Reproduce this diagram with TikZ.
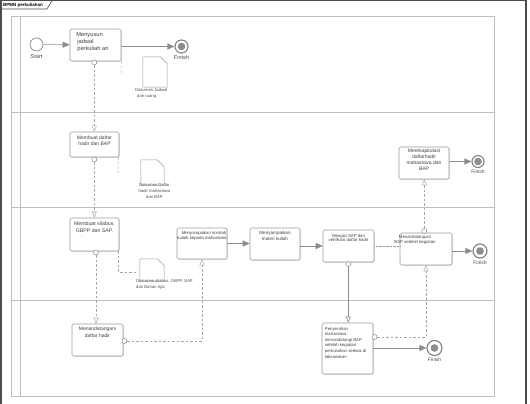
\documentclass[tikz,border=0pt]{standalone}
\usepackage{fontspec}
\setmainfont{Liberation Sans}
\usetikzlibrary{arrows.meta,positioning,shadows}

\begin{document}
\begin{tikzpicture}[x=1pt,y=-1pt,
    lane/.style={draw=black!25,line width=1pt},
    task/.style={draw=black!40,line width=0.6pt,rounded corners=1.5pt,fill=white,
      inner sep=0pt,minimum width=50pt,minimum height=32pt,
      drop shadow={shadow xshift=0.8pt,shadow yshift=-0.8pt,opacity=0.25}},
    tasktext/.style={font=\fontsize{4.3}{5.2}\selectfont,align=center,inner sep=0pt,text=black!75},
    event/.style={circle,draw=black!45,line width=0.7pt,fill=white,inner sep=0pt,minimum size=13pt},
    endevent/.style={event,line width=1.1pt,draw=black!50,
      path picture={\fill[black!45] (path picture bounding box.center) circle (3.8pt);}},
    evlabel/.style={font=\fontsize{5}{6}\selectfont,text=black!70,inner sep=0pt},
    port/.style={circle,draw=black!45,fill=white,inner sep=0pt,minimum size=5pt,line width=0.5pt},
    flow/.style={draw=black!45,line width=0.6pt,-{Triangle[length=7pt,width=6pt,fill=black!45]}},
    msg/.style={draw=black!35,line width=0.5pt,dash pattern=on 2.5pt off 2pt,
      -{Triangle[open,length=6pt,width=5pt]}},
    msgsolid/.style={draw=black!45,line width=0.6pt,-{Triangle[open,length=6pt,width=5pt]}},
    assoc/.style={draw=black!35,line width=0.5pt,dash pattern=on 2.5pt off 2pt},
    docshape/.style={inner sep=0pt,minimum width=24pt,minimum height=26pt},
    doc/.style={draw=black!40,line width=0.5pt,fill=white},
    doctext/.style={font=\fontsize{4.2}{5.8}\selectfont,text=black!70,inner sep=0pt},
    tinydots/.style={font=\fontsize{2.5}{3}\selectfont,text=black!50,inner sep=0pt}
  ]
  \useasboundingbox (0,0) rectangle (530,404);

  % frame and title tab
  \draw[black!70,line width=1.2pt] (1,404) -- (1,0.6) -- (526,0.6) -- (526,404);
  \draw[black!70,line width=0.6pt] (1,9) -- (47,9) -- (52,0.6);
  \node[font=\fontsize{4.5}{5}\selectfont\bfseries,inner sep=0pt,anchor=west] (title) at (3,5) {BPMN perkuliahan};

  % pool and lanes
  \draw[lane] (11,17) rectangle (494,396);
  \draw[lane] (20,17) -- (20,396);
  \foreach \y in {112,207,300}
    \draw[lane] (11,\y) -- (494,\y);

  % data objects
  \node[docshape,minimum height=30pt] (jadwaldoc) at (155,72) {};
  \node[docshape,minimum width=23pt,minimum height=25pt] (hadirdoc) at (152.5,172.5) {};
  \node[docshape,minimum height=22pt] (silabusdoc) at (152,270) {};
  \foreach \d in {jadwaldoc,hadirdoc,silabusdoc}
    \draw[doc] (\d.south west) -- (\d.north west) -- ([xshift=-7pt]\d.north east)
      -- ([yshift=-7pt]\d.north east) -- (\d.south east) -- cycle;
  \node[doctext,align=left,anchor=north west] (jadwaldoctxt) at (135,88) {Dokumen Jadwal\\\hspace*{2pt}dan ruang};
  \node[tinydots,anchor=north west] (jadwaldots) at (139,99) {.........};
  \node[doctext,align=center,anchor=north] (hadirdoctxt) at (154.5,183.5) {Dokumen Daftar\\hadir mahasiswa\\dan BAP};
  \node[doctext,align=left,anchor=north west] (silabusdoctxt) at (136,279) {Dokumen silabus, GBPP, SAP\\dan Bahan Ajar};

  % lane 1
  \node[event] (start) at (36.5,44.5) {};
  \node[evlabel,font=\fontsize{5.7}{6}\selectfont,below=2.5pt of start] (startlbl) {Start};
  \node[task,minimum width=51pt] (jadwal) at (95.5,45) {};
  \node[tasktext,font=\fontsize{5.7}{7}\selectfont,align=left,anchor=north west] (jadwaltxt)
    at ([xshift=6.5pt,yshift=-3.5pt]jadwal.north west) {Menyusun\\\hspace*{1pt}jadwal\\\hspace*{1pt}perkuliah an};
  \node[port] (jadwalport) at (94.3,62.5) {};
  \node[endevent] (finish1) at (181.5,46.5) {};
  \node[evlabel,font=\fontsize{5.7}{6}\selectfont,below=2pt of finish1] (finish1lbl) {Finish};
  \coordinate (jadwalend) at (121,75);

  % lane 2
  \node[task,minimum width=49pt,minimum height=25pt] (hadir) at (94.5,144.5) {};
  \node[tasktext,font=\fontsize{5}{6.7}\selectfont,below=3.5pt of hadir.north] (hadirtxt) {Membuat daftar\\hadir dan BAP};
  \node[port] (hadirport) at (94.3,159.5) {};
  \coordinate (hadirend) at (118,173);
  \node[task] (rekap) at (424,163) {};
  \node[tasktext,font=\fontsize{5}{6.3}\selectfont,below=1.5pt of rekap.north] (rekaptxt) {Merekapitulasi\\daftarhadir\\mahasiswa dan\\BAP};
  \node[endevent,minimum size=12pt] (finish2) at (478,161.5) {};
  \node[evlabel,below=2pt of finish2] (finish2lbl) {Finish};

  % lane 3
  \node[task,minimum width=49pt,minimum height=33pt] (silabus) at (94.5,234.5) {};
  \node[tasktext,font=\fontsize{5.2}{6.8}\selectfont,below=4pt of silabus.north] (silabustxt) {Membuat silabus,\\GBPP dan SAP.};
  \node[tinydots,anchor=north west] (silabusdots) at (77.5,236) {..........};
  \node[port] (silabusport) at (96,252.5) {};
  \coordinate (silabusend) at (138,272);
  \node[task,minimum height=31pt] (kontrak) at (202,243.5) {};
  \node[tasktext,below=3pt of kontrak.north] (kontraktxt) {\hspace*{4pt}Menyampaikan kontrak\\kuliah kepada mahasiswa};
  \node[task] (materi) at (275,244) {};
  \node[tasktext,font=\fontsize{4.6}{6}\selectfont,below=3pt of materi.north] (materitxt) {Menyampaikan\\materi kuliah};
  \node[task,minimum width=51pt] (isi) at (348.5,246) {};
  \node[tasktext,font=\fontsize{4.3}{4.8}\selectfont,below=4pt of isi.north] (isitxt) {Mengisi SAP dan\\verifikasi daftar hadir};
  \node[tinydots,anchor=north west] (isidots) at (333,243) {..........};
  \node[port] (isiport) at (348.3,264) {};
  \node[task,minimum width=52pt] (ttdbap) at (426,249) {};
  \node[tasktext,font=\fontsize{4.3}{4.8}\selectfont] (ttdbaptxt) at (415,239.5) {Menandatangani\\BAP setelah kegiatan};
  \node[port] (ttdbapport) at (424.3,231) {};
  \node[endevent,minimum size=14pt] (finish3) at (480,251) {};
  \node[evlabel,below=2pt of finish3] (finish3lbl) {Finish};

  % lane 4
  \node[task,minimum width=51pt] (ttdhadir) at (97.5,340) {};
  \node[tasktext,font=\fontsize{5}{7}\selectfont,below=3pt of ttdhadir.north] (ttdhadirtxt) {Menandatangani\\daftar hadir};
  \node[port] (ttdhadirport) at (124.5,341) {};
  \node[task,minimum width=51pt,minimum height=51pt] (serah) at (347.5,348.5) {};
  \node[tasktext,align=left,font=\fontsize{4.3}{5.6}\selectfont,anchor=north west] (serahtxt)
    at ([xshift=3pt,yshift=-4pt]serah.north west) {Penyerahan\\mahasiswa\\menandatangi BAP\\setelah kegiatan\\perkuliahan selesai di\\laksanakan};
  \node[port] (serahport) at (374.5,337) {};
  \node[endevent,minimum size=15pt] (finish4) at (434.5,348) {};
  \node[evlabel,below=2pt of finish4] (finish4lbl) {Finish};

  % sequence flows
  \draw[flow] (start) -- (jadwal);
  \draw[flow] (jadwal.east |- finish1) -- (finish1);
  \draw[flow] (rekap.east |- finish2) -- (finish2);
  \draw[flow] (kontrak.east) -- (kontrak.east -| materi.west);
  \draw[flow] (materi.east |- isi) -- (isi);
  \draw[flow] (ttdbap.east |- finish3) -- (finish3);
  \draw[flow] (serah.east |- finish4) -- (finish4);
  \draw[black!40,line width=0.4pt,densely dotted] (isi.east) -- (isi.east -| ttdbap.west);

  % message flows
  \draw[msg] (jadwalport) -- (jadwalport |- hadir.north);
  \draw[msg] (hadirport) -- (hadirport |- silabus.north);
  \draw[msg] (silabusport) -- (silabusport |- ttdhadir.north);
  \draw[msg] (ttdhadirport) -| (kontrak.south);
  \draw[msg] (serahport) -| (ttdbap.south);
  \draw[msg] (ttdbapport) -- (ttdbapport |- rekap.south);
  \draw[msgsolid] (isiport) -- (isiport |- serah.north);

  % associations
  \draw[assoc] (jadwal.south east) -- (jadwalend);
  \draw[assoc] ([xshift=-1pt]hadir.south east) -- (hadirend);
  \draw[assoc] ([xshift=-1pt]silabus.south east) |- (silabusend);
\end{tikzpicture}
\end{document}
